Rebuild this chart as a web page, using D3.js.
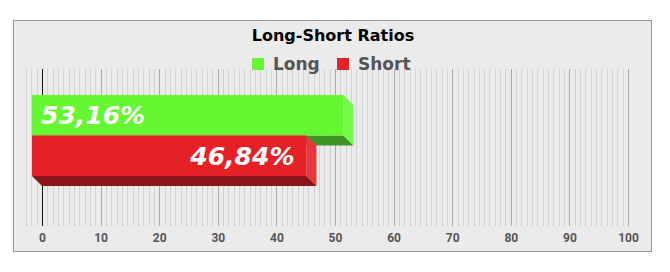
<!DOCTYPE html>
<html>
<head>
<meta charset="utf-8">
<script src="https://cdn.jsdelivr.net/npm/d3@7"></script>
<style>
  html, body { margin: 0; padding: 0; background: #fff; }
  svg { display: block; }
</style>
</head>
<body>
<svg id="chart" width="670" height="272"></svg>
<script>
// data
var categories = ["Long", "Short"];
var ratios = [53.16, 46.84];
var tickValues = [0, 10, 20, 30, 40, 50, 60, 70, 80, 90, 100];
var chartTitle = "Long-Short Ratios";

var palette = {
    Long:  { front: "#66f733", side: "#74fb48", bottom: "#3e9524" },
    Short: { front: "#e52128", side: "#e8363c", bottom: "#8a1419" }
};

var svg = d3.select("#chart"),
    depth = 10,
    plot = {left: 42, right: 628, top: 69, bottom: 226};

var fmt = d3.formatLocale({decimal: ",", thousands: ".", grouping: [3], currency: ["", ""]}).format(".2f");

// frame
svg.append("rect")
    .attr("x", 13.5).attr("y", 20.5)
    .attr("width", 638).attr("height", 231)
    .attr("fill", "#ebebeb")
    .attr("stroke", "#999");

var x = d3.scaleLinear().domain([0, 100]).range([plot.left, plot.right]);
var y = d3.scaleBand().domain(categories).range([plot.top, plot.bottom - 4])
    .paddingInner(0).paddingOuter(0.89);

// minor grid (11 per major step, a few spill left of zero)
var minorStep = 10 / 11, minor = [];
for (var i = -3; i * minorStep < 100 - 0.01; i++) {
    if (i % 11 !== 0) minor.push(i * minorStep);
}
svg.append("g").selectAll("line")
    .data(minor)
    .enter().append("line")
    .attr("x1", function(d) { return Math.round(x(d)) + 0.5; })
    .attr("x2", function(d) { return Math.round(x(d)) + 0.5; })
    .attr("y1", plot.top).attr("y2", plot.bottom)
    .attr("stroke", "#d2d2d2");

// major grid
svg.append("g").selectAll("line")
    .data(tickValues)
    .enter().append("line")
    .attr("x1", function(d) { return Math.round(x(d)) + 0.5; })
    .attr("x2", function(d) { return Math.round(x(d)) + 0.5; })
    .attr("y1", plot.top).attr("y2", plot.bottom)
    .attr("stroke", function(d) { return d === 0 ? "#111" : "#aaa"; });

// axis labels
var xAxis = d3.axisBottom(x).tickValues(tickValues).tickSize(0).tickPadding(0);
var axisG = svg.append("g")
    .attr("transform", "translate(0," + (plot.bottom + 6) + ")")
    .call(xAxis);
axisG.select(".domain").remove();
axisG.selectAll("text")
    .attr("dy", null).attr("y", 10)
    .attr("font-family", "Roboto")
    .attr("font-weight", "bold")
    .attr("font-size", 12)
    .attr("fill", "#555");

// 3D bars
var bars = svg.selectAll("g.bar")
    .data(categories.map(function(c, i) { return {cat: c, value: ratios[i]}; }))
    .enter().append("g").attr("class", "bar");

bars.each(function(d) {
    var g = d3.select(this),
        x0 = x(0), x1 = x(d.value),
        yT = y(d.cat), yB = y(d.cat) + y.bandwidth(),
        c = palette[d.cat];
    g.append("polygon")
        .attr("points", [[x0 - depth, yB - depth], [x1 - depth, yB - depth], [x1, yB], [x0, yB]].join(" "))
        .attr("fill", c.bottom);
    g.append("polygon")
        .attr("points", [[x1 - depth, yT - depth], [x1, yT], [x1, yB], [x1 - depth, yB - depth]].join(" "))
        .attr("fill", c.side);
    g.append("rect")
        .attr("x", x0 - depth).attr("y", yT - depth)
        .attr("width", x1 - x0).attr("height", y.bandwidth())
        .attr("fill", c.front);
});

bars.append("text")
    .attr("x", function(d, i) { return i === 0 ? x(0) - depth + 9 : x(d.value) - depth - 12; })
    .attr("y", function(d) { return y(d.cat) - depth + y.bandwidth() / 2; })
    .attr("dy", "0.36em")
    .attr("text-anchor", function(d, i) { return i === 0 ? "start" : "end"; })
    .attr("font-family", "DejaVu Sans")
    .attr("font-weight", "bold")
    .attr("font-style", "italic")
    .attr("font-size", 25)
    .attr("fill", "#fff")
    .text(function(d) { return fmt(d.value) + "%"; });

// title
svg.append("text")
    .attr("x", 333).attr("y", 41)
    .attr("text-anchor", "middle")
    .attr("font-family", "DejaVu Sans")
    .attr("font-weight", "bold")
    .attr("font-size", 16)
    .attr("fill", "#000")
    .text(chartTitle);

// legend
var legendX = [252, 337];
var legend = svg.selectAll("g.legend")
    .data(categories)
    .enter().append("g").attr("class", "legend")
    .attr("transform", function(d, i) { return "translate(" + legendX[i] + ",58)"; });
legend.append("rect")
    .attr("width", 12).attr("height", 12)
    .attr("fill", function(d) { return palette[d].front; });
legend.append("text")
    .attr("x", 21).attr("y", 11.5)
    .attr("font-family", "DejaVu Sans")
    .attr("font-weight", "bold")
    .attr("font-size", 17)
    .attr("fill", "#555")
    .text(function(d) { return d; });
</script>
</body>
</html>
